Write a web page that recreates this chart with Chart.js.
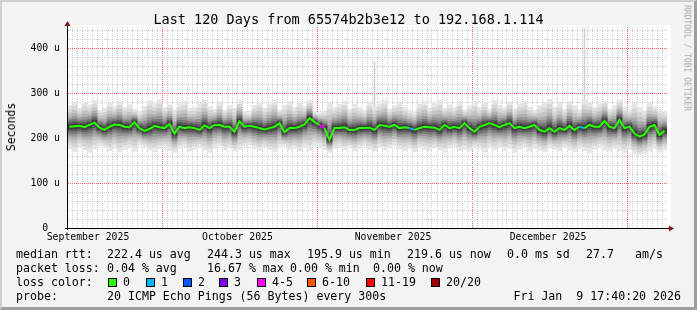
<!DOCTYPE html>
<html>
<head>
<meta charset="utf-8">
<script src="https://cdn.jsdelivr.net/npm/chart.js@4/dist/chart.umd.min.js"></script>
<style>
  body { margin: 0; background: #fff; }
  #wrap { position: relative; width: 697px; height: 310px; background: #f3f3f3; overflow: hidden;
          font-family: 'DejaVu Sans Mono', monospace; color: #000; }
  #wrap canvas { position: absolute; left: 0; top: 0; }
  .frame { position: absolute; left: 0; top: 0; width: 697px; height: 310px; box-sizing: border-box;
           border-top: 2px solid #cfcfcf; border-left: 2px solid #cfcfcf;
           border-bottom: 3px solid #9d9d9d; border-right: 3px solid #9d9d9d; pointer-events: none; }
  .t { position: absolute; white-space: pre; font-size: 11.6px; line-height: 14px; }
  .title { position: absolute; left: 0; width: 697px; top: 11px; text-align: center; font-size: 13.5px; line-height: 16px; white-space: pre; }
  .ylab { position: absolute; left: 11px; top: 127px; font-size: 11.5px; line-height: 14px;
          transform: translate(-50%, -50%) rotate(-90deg); white-space: pre; }
  .credit { position: absolute; left: 687px; top: 5px; font-size: 8px; line-height: 9px; color: #a8a8a8;
            transform-origin: 0 0; transform: translate(4.5px, 0) rotate(90deg); white-space: pre; }
  .sq { position: absolute; width: 7px; height: 7px; border: 1px solid #000; top: 278px; }
</style>
</head>
<body>
<div id="wrap">
  <canvas id="c" width="697" height="310"></canvas>
  <div class="title">Last 120 Days from 65574b2b3e12 to 192.168.1.114</div>
  <div class="ylab">Seconds</div>
  <div class="credit">RRDTOOL / TOBI OETIKER</div>
  <div id="legend"></div>
  <div class="frame"></div>
</div>
<script>
// median rtt per day (us), Sep 11 2025 -> Jan 9 2026
const median = [
  225, 226, 227, 224, 229, 234, 223, 218, 225, 230,
  229, 225, 224, 235, 222, 216, 220, 227, 224, 222,
  231, 210, 225, 222, 224, 222, 218, 228, 222, 229,
  229, 225, 225, 214, 237, 225, 227, 225, 222, 219,
  222, 225, 233, 213, 222, 222, 225, 230, 244, 236,
  229, 222, 196, 222, 222, 224, 218, 218, 222, 222,
  223, 218, 229, 227, 225, 229, 222, 224, 222, 218,
  222, 225, 224, 223, 218, 229, 222, 225, 222, 233,
  222, 214, 225, 229, 233, 229, 224, 229, 233, 222,
  225, 222, 225, 229, 218, 214, 222, 214, 222, 218,
  227, 218, 225, 222, 229, 225, 225, 238, 225, 222,
  240, 222, 225, 210, 203, 208, 225, 229, 207, 216
];
// highest / lowest ping of the smoke per day (us)
const smokeHigh = [
  272, 280, 266, 279, 274, 284, 262, 266, 278, 270,
  282, 268, 274, 264, 258, 270, 283, 276, 285, 268,
  274, 262, 276, 282, 266, 268, 277, 285, 270, 264,
  280, 262, 273, 266, 283, 258, 256, 272, 279, 266,
  276, 284, 262, 273, 281, 268, 277, 270, 284, 258,
  256, 260, 278, 268, 275, 282, 264, 275, 268, 262,
  280, 270, 276, 284, 264, 272, 278, 268, 262, 258,
  275, 281, 266, 278, 284, 266, 274, 268, 281, 262,
  272, 282, 268, 277, 264, 284, 273, 268, 280, 264,
  276, 282, 268, 262, 272, 279, 286, 268, 277, 264,
  281, 272, 262, 284, 278, 268, 276, 282, 264, 272,
  285, 268, 262, 277, 268, 260, 278, 270, 264, 258
];
const smokeLow = [
  176, 170, 180, 174, 168, 175, 182, 179, 172, 177,
  169, 175, 180, 171, 184, 181, 173, 169, 176, 180,
  172, 168, 177, 181, 171, 175, 180, 173, 168, 177,
  183, 173, 178, 171, 175, 182, 184, 176, 172, 180,
  174, 169, 178, 182, 173, 177, 171, 180, 172, 183,
  181, 175, 168, 177, 181, 173, 178, 171, 177, 182,
  175, 171, 180, 173, 178, 183, 175, 172, 177, 169,
  180, 175, 171, 178, 173, 168, 177, 181, 172, 175,
  171, 180, 175, 169, 178, 173, 181, 172, 177, 168,
  175, 180, 171, 177, 173, 169, 178, 175, 171, 180,
  173, 169, 177, 172, 168, 175, 180, 173, 171, 177,
  172, 168, 175, 166, 162, 165, 171, 177, 168, 173
];
// single outlier pings above the smoke (us)
const pingMax = [];
pingMax[61] = 370;
pingMax[103] = 444;
// lost pings (of 20) per day
const loss = new Array(120).fill(0);
loss[51] = 4;
loss[69] = 1;
loss[103] = 1;

const lossLabels = ['0', '1', '2', '3', '4-5', '6-10', '11-19', '20/20'];
const lossColors = ['#26ff00', '#00b8ff', '#0059ff', '#7e00ff', '#ff00ff', '#ff5500', '#ff0000', '#a00000'];
const lossUpper = [0, 1, 2, 3, 5, 10, 19, 20];

const monthLabels = ['September 2025', 'October 2025', 'November 2025', 'December 2025'];
const monthLabelDays = [4.2, 34.1, 65.2, 96.2];
const majorGridDays = [19, 50, 81, 112];
const yLabelValues = [0, 100, 200, 300, 400];

const days = median.map((_, i) => i);
// smoke shading: share of the spread around the median, outer to inner
const smokeFractions = [1, 0.82, 0.66, 0.52, 0.4, 0.29, 0.19, 0.1];
const smokeGreys = ['#e6e6e6', '#d6d6d6', '#c4c4c4', '#afafaf', '#969696', '#7a7a7a', '#5c5c5c', '#3e3e3e'];

function lossColor(n) {
  for (let k = 0; k < lossUpper.length; k++) if (n <= lossUpper[k]) return lossColors[k];
  return lossColors[lossColors.length - 1];
}
const near = (list, v) => list.some(d => Math.abs(d - v) < 1e-6);

// legend rows
const legend = document.getElementById('legend');
function txt(s, left, top) {
  const d = document.createElement('div');
  d.className = 't'; d.textContent = s;
  d.style.left = left + 'px'; d.style.top = top + 'px';
  legend.appendChild(d);
  return d;
}
[['median rtt:', 16], ['222.4 us avg', 107], ['244.3 us max', 207], ['195.9 us min', 307],
 ['219.6 us now', 407], ['0.0 ms sd', 507], ['27.7', 586], ['am/s', 635]].forEach(p => txt(p[0], p[1], 247));
[['packet loss:', 16], ['0.04 % avg', 107], ['16.67 % max', 207], ['0.00 % min', 290],
 ['0.00 % now', 373]].forEach(p => txt(p[0], p[1], 261));
txt('loss color:', 16, 275);
const sqX = [108, 146, 183, 219, 257, 307, 366, 431];
lossLabels.forEach((l, k) => {
  const s = document.createElement('div');
  s.className = 'sq'; s.style.left = sqX[k] + 'px'; s.style.background = lossColors[k];
  legend.appendChild(s);
  txt(l, sqX[k] + 15, 275);
});
txt('probe:', 16, 289);
txt('20 ICMP Echo Pings (56 Bytes) every 300s', 107, 289);
const dt = txt('Fri Jan  9 17:40:20 2026', 0, 289);
dt.style.left = 'auto'; dt.style.right = '16px';

Chart.defaults.font.family = "'DejaVu Sans Mono', monospace";
Chart.defaults.color = '#000';

const framePlugin = {
  id: 'framePlugin',
  beforeDraw(chart) {
    const { ctx, chartArea: a } = chart;
    ctx.save();
    ctx.fillStyle = '#ffffff';
    ctx.fillRect(a.left, a.top - 2, a.right - a.left + 4, a.bottom - a.top + 2);
    ctx.restore();
  },
  afterDraw(chart) {
    const { ctx, chartArea: a } = chart;
    ctx.save();
    ctx.strokeStyle = '#000';
    ctx.lineWidth = 1;
    ctx.beginPath();
    ctx.moveTo(a.left + 0.5, a.bottom + 2);
    ctx.lineTo(a.left + 0.5, a.top - 4);
    ctx.moveTo(a.left - 2, a.bottom + 0.5);
    ctx.lineTo(a.right + 3, a.bottom + 0.5);
    ctx.stroke();
    ctx.fillStyle = '#7f1a1a';
    ctx.beginPath();
    ctx.moveTo(a.left + 0.5, a.top - 6);
    ctx.lineTo(a.left - 2.5, a.top - 1);
    ctx.lineTo(a.left + 3.5, a.top - 1);
    ctx.fill();
    ctx.beginPath();
    ctx.moveTo(a.right + 7, a.bottom + 0.5);
    ctx.lineTo(a.right + 2, a.bottom - 2.5);
    ctx.lineTo(a.right + 2, a.bottom + 3.5);
    ctx.fill();
    ctx.restore();
  }
};

const smokeSets = smokeFractions.map((f, k) => ({
  type: 'bar',
  data: median.map((m, i) => [m - f * (m - smokeLow[i]), m + f * (smokeHigh[i] - m)]),
  backgroundColor: smokeGreys[k],
  borderWidth: 0,
  barPercentage: 1,
  categoryPercentage: 1,
  grouped: false,
  order: 20 - k
}));

const majorColor = '#ff6060';
const minorColor = '#cfcfcf';

new Chart(document.getElementById('c'), {
  data: {
    labels: days,
    datasets: [
      {
        type: 'line',
        data: median,
        borderColor: lossColors[0],
        segment: { borderColor: c => lossColor(loss[c.p1DataIndex]) },
        borderWidth: 2,
        pointRadius: 0,
        tension: 0,
        order: 0
      },
      ...smokeSets,
      {
        type: 'bar',
        data: days.map(i => pingMax[i] == null ? null : [smokeHigh[i], pingMax[i]]),
        backgroundColor: '#d2d2d2',
        barThickness: 1,
        grouped: false,
        order: 30
      }
    ]
  },
  options: {
    responsive: false,
    animation: false,
    events: [],
    layout: { padding: { left: 0, top: 27, right: 30, bottom: 64 } },
    plugins: { legend: { display: false }, tooltip: { enabled: false } },
    scales: {
      x: { type: 'category', display: false, offset: true },
      xt: {
        type: 'linear', position: 'bottom', min: 0, max: 120,
        afterBuildTicks: s => {
          const vals = [];
          for (let d = 0; d <= 120; d++) vals.push(d);
          monthLabelDays.forEach(v => vals.push(v));
          vals.sort((a, b) => a - b);
          s.ticks = vals.map(v => ({ value: v }));
        },
        afterFit: s => { s.height = 18; },
        grid: {
          drawTicks: false,
          lineWidth: 1,
          color: c => {
            const v = c.tick ? c.tick.value : -1;
            if (v <= 0 || v >= 120 || near(monthLabelDays, v)) return 'rgba(0,0,0,0)';
            if (near(majorGridDays, v)) return majorColor;
            return minorColor;
          }
        },
        border: { display: true, color: '#000', dash: [1, 1] },
        ticks: {
          autoSkip: false, maxRotation: 0, padding: 4,
          font: { size: 9.8 },
          callback: v => {
            const k = monthLabelDays.findIndex(d => Math.abs(d - v) < 1e-6);
            return k >= 0 ? monthLabels[k] : '';
          }
        }
      },
      y: {
        min: 0, max: 446.7,
        afterBuildTicks: s => {
          const t = [];
          for (let v = 0; v <= 440; v += 20) t.push({ value: v });
          s.ticks = t;
        },
        afterFit: s => { s.width = 67; },
        grid: {
          drawTicks: false,
          lineWidth: 1,
          color: c => {
            const v = c.tick ? c.tick.value : -1;
            if (v <= 0) return 'rgba(0,0,0,0)';
            if (yLabelValues.includes(v)) return majorColor;
            return minorColor;
          }
        },
        border: { display: true, color: '#000', dash: [1, 1] },
        ticks: {
          autoSkip: false,
          padding: 7,
          font: { size: 9.8 },
          callback: v => yLabelValues.includes(v) ? (v === 0 ? '0  ' : v + ' u') : ''
        }
      }
    }
  },
  plugins: [framePlugin]
});
</script>
</body>
</html>
